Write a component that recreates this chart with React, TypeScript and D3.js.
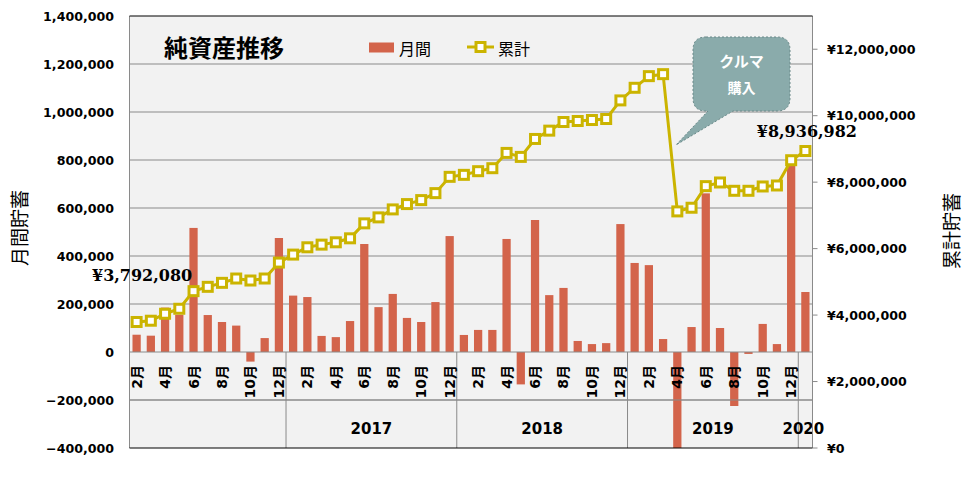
import React from "react";
import * as d3 from "d3";

// ---- data ----
const yearLabels = ["", "2017", "2018", "2019", "2020"];
const yearMonthCounts = [11, 12, 12, 12, 1];
const monthNumbers = [
  2, 3, 4, 5, 6, 7, 8, 9, 10, 11, 12,
  1, 2, 3, 4, 5, 6, 7, 8, 9, 10, 11, 12,
  1, 2, 3, 4, 5, 6, 7, 8, 9, 10, 11, 12,
  1, 2, 3, 4, 5, 6, 7, 8, 9, 10, 11, 12,
  1,
];
const monthly = [
  72000, 68000, 185000, 155000, 517000, 154000, 125000, 110000, -40000, 58000, 475000,
  235000, 229000, 67000, 62000, 129000, 450000, 187000, 242000, 142000, 125000, 208000, 483000,
  71000, 92000, 92000, 471000, -135000, 550000, 237000, 267000, 46000, 33000, 37000, 533000,
  371000, 362000, 54000, -4120000, 104000, 661000, 100000, -225000, -8000, 117000, 33000, 775000,
  250000,
];
const cumulative = [
  3792080, 3830000, 4040000, 4190000, 4720000, 4850000, 4970000, 5100000, 5040000, 5100000, 5580000,
  5820000, 6040000, 6120000, 6190000, 6310000, 6760000, 6940000, 7180000, 7340000, 7460000, 7670000, 8160000,
  8220000, 8330000, 8420000, 8880000, 8760000, 9300000, 9550000, 9810000, 9840000, 9870000, 9900000, 10460000,
  10840000, 11190000, 11250000, 7120000, 7230000, 7880000, 7990000, 7740000, 7740000, 7870000, 7900000, 8660000,
  8936982,
];
const leftTicks = [-400000, -200000, 0, 200000, 400000, 600000, 800000, 1000000, 1200000, 1400000];
const rightTicks = [0, 2000000, 4000000, 6000000, 8000000, 10000000, 12000000];
const titleText = "純資産推移";
const seriesNames = ["月間", "累計"];
const leftAxisTitle = "月間貯蓄";
const rightAxisTitle = "累計貯蓄";
const calloutLines = ["クルマ", "購入"];

// ---- layout ----
const W = 966;
const H = 477;
const PL = 129.5;
const PR = 812.5;
const PT = 16;
const PB = 448;
const BAR = "#d3644b";
const LINE = "#cbb400";
const GRID = "#8a8a8a";
const SANS = "'DejaVu Sans', Verdana, 'Noto Sans CJK JP', sans-serif";
const CJK = "'Noto Sans CJK JP', 'DejaVu Sans', sans-serif";

export default function App() {
  const idx = d3.range(monthly.length);
  const x = d3
    .scaleBand<number>()
    .domain(idx)
    .range([PL, PR])
    .paddingInner(0.42)
    .paddingOuter(0.21);
  const step = x.step();
  const bw = x.bandwidth();
  const cx = (i: number) => (x(i) as number) + bw / 2;
  const yL = d3.scaleLinear().domain([-400000, 1400000]).range([PB, PT]);
  const yR = d3.scaleLinear().domain([0, 13000000]).range([PB, PT]);
  const zeroY = yL(0);
  const rowY = yL(-200000);

  const linePath = d3
    .line<number>()
    .x((_, i) => cx(i))
    .y((d) => yR(d))(cumulative) as string;

  // year group boundaries
  const bounds: number[] = [];
  let acc = 0;
  yearMonthCounts.forEach((c) => {
    bounds.push(PL + acc * step);
    acc += c;
  });
  bounds.push(PL + acc * step);

  const fmt = d3.format(",");
  const yen = (v: number) => "¥" + fmt(v);

  const lastI = cumulative.length - 1;

  // callout geometry
  const cbx = 693, cby = 37, cbw = 97, cbh = 74, r = 13;
  const calloutPath =
    `M${cbx + r},${cby} H${cbx + cbw - r} Q${cbx + cbw},${cby} ${cbx + cbw},${cby + r} ` +
    `V${cby + cbh - r} Q${cbx + cbw},${cby + cbh} ${cbx + cbw - r},${cby + cbh} ` +
    `H${cbx + 40} L676,145 L${cbx + 15},${cby + cbh} H${cbx + r} ` +
    `Q${cbx},${cby + cbh} ${cbx},${cby + cbh - r} V${cby + r} Q${cbx},${cby} ${cbx + r},${cby} Z`;

  return (
    <svg
      width={W}
      height={H}
      style={{ position: "absolute", left: 0, top: 0, display: "block", background: "#fff" }}
    >
      <defs>
        <clipPath id="plotClip">
          <rect x={PL} y={PT} width={PR - PL} height={PB - PT} />
        </clipPath>
      </defs>
      <rect x={PL} y={PT} width={PR - PL} height={PB - PT} fill="#f2f2f2" />

      {/* gridlines */}
      {leftTicks
        .filter((t) => t !== 0 && t !== 1400000 && t !== -400000)
        .map((t) => (
          <line key={t} x1={PL} x2={PR} y1={yL(t)} y2={yL(t)} stroke={GRID} strokeWidth={1} />
        ))}

      {/* bars */}
      <g clipPath="url(#plotClip)">
        {monthly.map((v, i) => (
          <rect
            key={i}
            x={x(i)}
            width={bw}
            y={Math.min(yL(v), zeroY)}
            height={Math.abs(yL(v) - zeroY)}
            fill={BAR}
          />
        ))}
      </g>

      {/* category axis */}
      <line x1={PL} x2={PR} y1={zeroY} y2={zeroY} stroke={GRID} strokeWidth={1} />
      <line x1={PL} x2={PR} y1={rowY} y2={rowY} stroke={GRID} strokeWidth={1} />
      {bounds.slice(1, -1).map((b, i) => (
        <line key={i} x1={b} x2={b} y1={zeroY} y2={PB} stroke={GRID} strokeWidth={1} />
      ))}
      {monthNumbers.map((m, i) =>
        m % 2 === 0 ? (
          <text
            key={i}
            transform={`translate(${cx(i)},365) rotate(-90)`}
            textAnchor="end"
            dominantBaseline="central"
            fontFamily={SANS}
            fontWeight="bold"
            fontSize={14}
            fill="#000"
          >
            {m + "月"}
          </text>
        ) : null
      )}
      {yearLabels.map((y, i) => (
        <text
          key={i}
          x={(bounds[i] + bounds[i + 1]) / 2 - (i === yearLabels.length - 1 ? 2 : 0)}
          y={434}
          textAnchor="middle"
          fontFamily={SANS}
          fontWeight="bold"
          fontSize={15}
          fill="#000"
        >
          {y}
        </text>
      ))}

      {/* frame */}
      <line x1={PL} x2={PL} y1={PT} y2={PB} stroke={GRID} strokeWidth={1} />
      <line x1={PR} x2={PR} y1={PT} y2={PB} stroke={GRID} strokeWidth={1} />
      <line x1={PL} x2={PR} y1={PT} y2={PT} stroke="#000" strokeWidth={1.2} />
      <line x1={PL} x2={PR} y1={PB} y2={PB} stroke="#000" strokeWidth={1.2} />

      {/* cumulative line */}
      <g clipPath="url(#plotClip)">
        <path d={linePath} fill="none" stroke={LINE} strokeWidth={3} />
        {cumulative.map((v, i) => (
          <rect
            key={i}
            x={cx(i) - 4.5}
            y={yR(v) - 4.5}
            width={9}
            height={9}
            fill="#fff"
            stroke={LINE}
            strokeWidth={3}
          />
        ))}
      </g>

      {/* left axis labels */}
      {leftTicks.map((t) => (
        <text
          key={t}
          x={114}
          y={yL(t)}
          textAnchor="end"
          dominantBaseline="central"
          fontFamily={SANS}
          fontWeight="bold"
          fontSize={12.6}
          fill="#000"
        >
          {fmt(t)}
        </text>
      ))}
      {/* right axis ticks and labels */}
      {rightTicks.map((t) => (
        <g key={t}>
          <line x1={PR} x2={PR + 5} y1={yR(t)} y2={yR(t)} stroke={GRID} strokeWidth={1} />
          <text
            x={827}
            y={yR(t)}
            textAnchor="start"
            dominantBaseline="central"
            fontFamily={SANS}
            fontWeight="bold"
            fontSize={12.6}
            fill="#000"
          >
            {yen(t)}
          </text>
        </g>
      ))}

      {/* axis titles */}
      <text
        transform={`translate(18,228) rotate(-90)`}
        textAnchor="middle"
        dominantBaseline="central"
        fontFamily={CJK}
        fontSize={19}
        fill="#000"
      >
        {leftAxisTitle}
      </text>
      <text
        transform={`translate(950,231) rotate(-90)`}
        textAnchor="middle"
        dominantBaseline="central"
        fontFamily={CJK}
        fontSize={19}
        fill="#000"
      >
        {rightAxisTitle}
      </text>

      {/* title */}
      <text x={164} y={57} fontFamily={CJK} fontWeight="bold" fontSize={24} fill="#000">
        {titleText}
      </text>

      {/* legend */}
      <rect x={369} y={42.5} width={25} height={10} fill={BAR} />
      <text x={399} y={55} fontFamily={CJK} fontSize={16} fill="#000">
        {seriesNames[0]}
      </text>
      <line x1={467} x2={494} y1={47} y2={47} stroke={LINE} strokeWidth={3} />
      <rect x={476} y={42.5} width={9} height={9} fill="#fff" stroke={LINE} strokeWidth={3} />
      <text x={498} y={55} fontFamily={CJK} fontSize={16} fill="#000">
        {seriesNames[1]}
      </text>

      {/* data labels */}
      <text
        x={cx(0) + 5.5}
        y={yR(cumulative[0]) - 41}
        textAnchor="middle"
        fontFamily="'DejaVu Serif', 'Liberation Serif', serif"
        fontWeight="bold"
        fontSize={16}
        fill="#000"
      >
        {yen(cumulative[0])}
      </text>
      <text
        x={cx(lastI) + 1.5}
        y={yR(cumulative[lastI]) - 14}
        textAnchor="middle"
        fontFamily="'DejaVu Serif', 'Liberation Serif', serif"
        fontWeight="bold"
        fontSize={16}
        fill="#000"
      >
        {yen(cumulative[lastI])}
      </text>

      {/* callout */}
      <path d={calloutPath} fill="#8aabab" stroke="#6b8a8a" strokeWidth={1} strokeDasharray="2,2" />
      <text
        x={cbx + cbw / 2}
        y={60}
        textAnchor="middle"
        dominantBaseline="central"
        fontFamily={CJK}
        fontWeight="bold"
        fontSize={15}
        fill="#fff"
      >
        {calloutLines[0]}
      </text>
      <text
        x={cbx + cbw / 2}
        y={87}
        textAnchor="middle"
        dominantBaseline="central"
        fontFamily={CJK}
        fontWeight="bold"
        fontSize={14}
        fill="#fff"
      >
        {calloutLines[1]}
      </text>
    </svg>
  );
}
